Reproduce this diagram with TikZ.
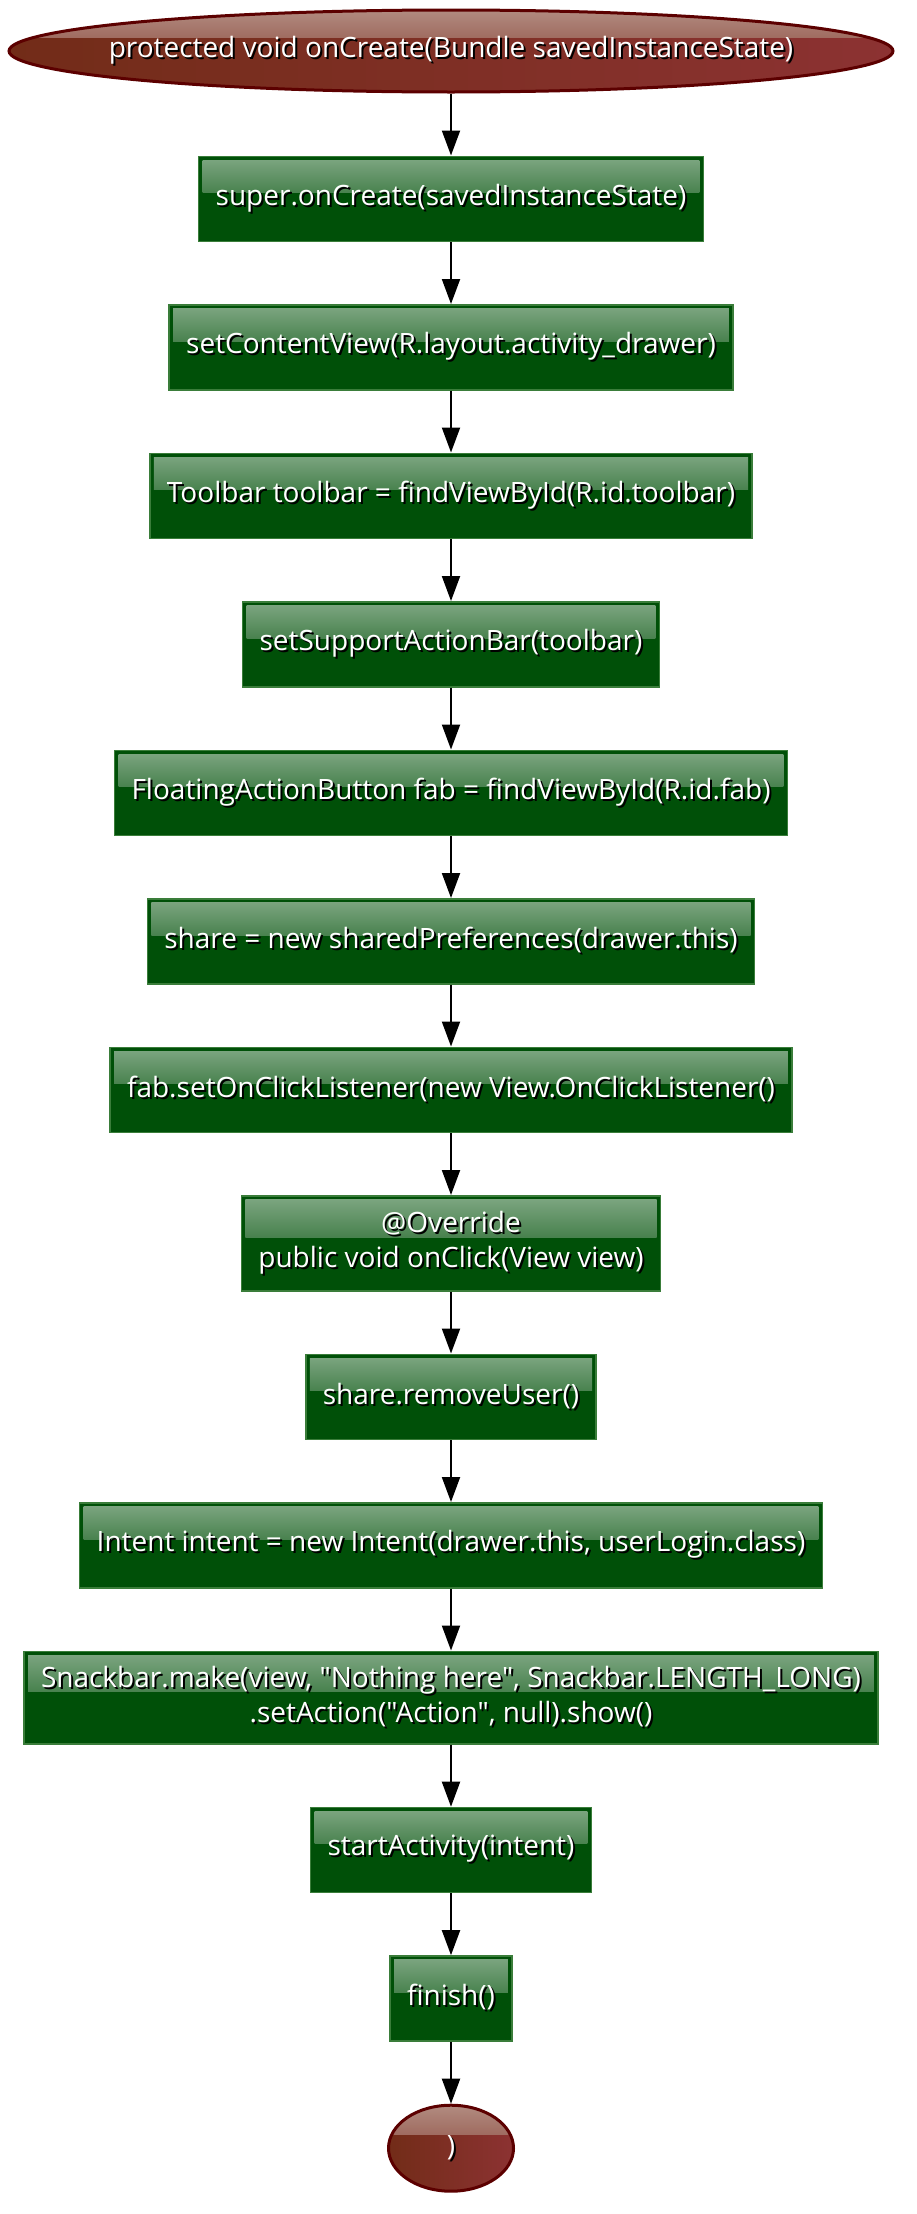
\documentclass[tikz,border=0pt]{standalone}
\usepackage{fontspec}
\newfontfamily\flowfont{Open Sans}
\usepackage{tikz}
\usetikzlibrary{arrows.meta,positioning,shapes.geometric,calc}
\definecolor{stepfill}{HTML}{005008}
\definecolor{stepedge}{HTML}{3A7D3A}
\definecolor{ovalleft}{HTML}{722C18}
\definecolor{ovalright}{HTML}{8C3232}
\definecolor{ovaledge}{HTML}{5C0000}
% white text with a small black drop shadow
\newcommand\sdw[1]{\makebox[0pt][l]{\kern2pt\raisebox{-2pt}{\color{black}#1}}#1}

\begin{document}
\begin{tikzpicture}[x=1pt,y=1pt,font=\flowfont\fontsize{28}{35}\selectfont,
  stepbox/.style={draw=stepedge,fill=stepfill,line width=1.5pt,text=white,align=center,
    minimum height=85,inner xsep=17,inner ysep=15,
    path picture={\shade[top color=stepfill!50!white,bottom color=stepfill]
      ($(path picture bounding box.north west)+(4,-4)$) rectangle
      ($(path picture bounding box.east)+(-4,6)$);}},
  terminal/.style={ellipse,draw=ovaledge,line width=3pt,left color=ovalleft,right color=ovalright,
    text=white,inner ysep=0pt,
    path picture={\shade[top color=ovalleft!55!white,bottom color=ovalleft!60!ovalright]
      (path picture bounding box.north west) rectangle
      ($(path picture bounding box.east)+(0,14)$);}},
  flow/.style={-{Triangle[length=25pt,width=18pt]},line width=2pt}]
\useasboundingbox (0,0) rectangle (917,-2214);
% start of onCreate
\node[terminal,minimum width=884,minimum height=82,inner xsep=-40pt] (oncreate) at (451,-51)
  {\sdw{protected void onCreate(Bundle savedInstanceState)}};
% the statements, one box each, top to bottom
\foreach \n/\t [remember=\n as \p (initially oncreate)] in {
  s1/{\sdw{super.onCreate(savedInstanceState)}},
  s2/{\sdw{setContentView(R.layout.activity\_drawer)}},
  s3/{\sdw{Toolbar toolbar = findViewById(R.id.toolbar)}},
  s4/{\sdw{setSupportActionBar(toolbar)}},
  s5/{\sdw{FloatingActionButton fab = findViewById(R.id.fab)}},
  s6/{\sdw{share = new sharedPreferences(drawer.this)}},
  s7/{\sdw{fab.setOnClickListener(new View.OnClickListener()}},
  s8/{\sdw{@Override}\\\sdw{public void onClick(View view)}},
  s9/{\sdw{share.removeUser()}},
  s10/{\sdw{Intent intent = new Intent(drawer.this, userLogin.class)}},
  s11/{\sdw{Snackbar.make(view, "Nothing here", Snackbar.LENGTH\_LONG)}\\\sdw{.setAction("Action", null).show()}},
  s12/{\sdw{startActivity(intent)}},
  s13/{\sdw{finish()}}}{
  \node[stepbox,below=62 of \p] (\n) {\t};
  \draw[flow] (\p) -- (\n);}
% closing bracket
\node[terminal,minimum width=125,minimum height=86,inner xsep=0pt,below=62 of s13] (close) {\sdw{)}};
\draw[flow] (s13) -- (close);
\end{tikzpicture}
\end{document}
